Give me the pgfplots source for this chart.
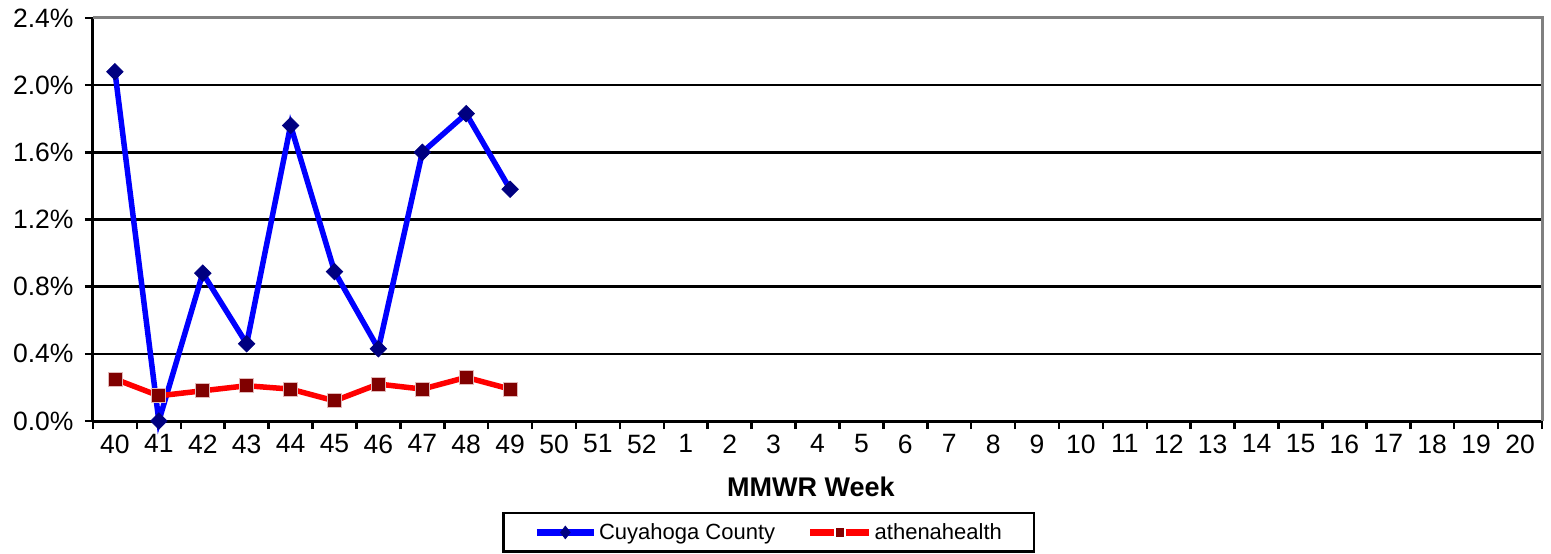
\documentclass[border=0pt]{standalone}
\usepackage{pgfplots}
\pgfplotsset{compat=1.18}
\usepackage{fontspec}
\setmainfont{Liberation Sans}
\definecolor{navy}{RGB}{0,0,128}
\definecolor{maroon}{RGB}{128,0,0}
\definecolor{bordergray}{RGB}{128,128,128}
\definecolor{pinkedge}{RGB}{225,185,185}
\begin{document}
\begin{tikzpicture}
\path[use as bounding box] (-93bp,-133bp) rectangle (1458bp,421bp);
\begin{axis}[
  at={(0,0)}, anchor=south west,
  scale only axis,
  width=1449bp, height=403bp,
  xmin=-0.5, xmax=32.5,
  ymin=0, ymax=2.4,
  axis x line*=bottom,
  axis y line*=left,
  axis line style={black, line width=3bp, -},
  xtick={0,...,32},
  xticklabels={40,41,42,43,44,45,46,47,48,49,50,51,52,1,2,3,4,5,6,7,8,9,10,11,12,13,14,15,16,17,18,19,20},
  minor xtick={-0.5,0.5,...,32.5},
  major x tick style={draw=none},
  minor x tick style={black, line width=2.5bp},
  minor tick length=8bp,
  ytick={0,0.4,0.8,1.2,1.6,2.0,2.4},
  y tick style={black, line width=2.5bp},
  major tick length=8bp,
  tick align=outside,
  ymajorgrids=true,
  major grid style={black, line width=2.5bp},
  yticklabel={\pgfmathprintnumber[fixed,fixed zerofill,precision=1]{\tick}\%},
  /pgf/number format/assume math mode=true,
  tick label style={font=\fontsize{26.5bp}{30bp}\selectfont},
  yticklabel style={anchor=east, xshift=-8bp},
  xticklabel style={anchor=north, yshift=-2bp},
  xlabel={\textbf{MMWR Week}},
  xlabel style={font=\fontsize{27bp}{30bp}\selectfont, at={(axis description cs:0.4955,-0.1638)}, anchor=center},
  legend columns=2,
  legend style={at={(axis description cs:0.2825,-0.2258)}, anchor=north west,
    draw=black, line width=2.5bp, font=\fontsize{22bp}{26bp}\selectfont,
    inner xsep=30bp, inner ysep=8.5bp,
    /tikz/every even column/.append style={column sep=30bp}},
  clip=false,
]
\addplot[blue, line width=5.5bp, mark=square*, mark size=5.8bp,
  mark options={rotate=45, fill=navy, draw=navy, line width=0.8bp},
  legend image code/.code={\draw[blue, line width=6.5bp] (0bp,0bp) -- (57bp,0bp);
    \draw[navy, fill=navy, line width=0.5bp] (28.5bp,6.5bp) -- (33.5bp,0bp) -- (28.5bp,-6.5bp) -- (23.5bp,0bp) -- cycle;}]
  coordinates {(0,2.08) (1,0.0) (2,0.88) (3,0.46) (4,1.76) (5,0.89) (6,0.43) (7,1.60) (8,1.83) (9,1.38)};
\addlegendentry{Cuyahoga County}
\addplot[red, line width=5.5bp, mark=square*, mark size=7bp,
  mark options={fill=maroon, draw=pinkedge, line width=0.8bp},
  legend image code/.code={\draw[red, line width=6.5bp] (0bp,0bp) -- (59bp,0bp);
    \draw[white, fill=maroon, line width=2.5bp] (24.5bp,-6bp) rectangle (34.5bp,6bp);}]
  coordinates {(0,0.25) (1,0.15) (2,0.18) (3,0.21) (4,0.19) (5,0.12) (6,0.22) (7,0.19) (8,0.26) (9,0.19)};
\addlegendentry{athenahealth}
\draw[bordergray, line width=3bp] (rel axis cs:0,1) -- (rel axis cs:1,1) -- (rel axis cs:1,0);
\end{axis}
\end{tikzpicture}
\end{document}
